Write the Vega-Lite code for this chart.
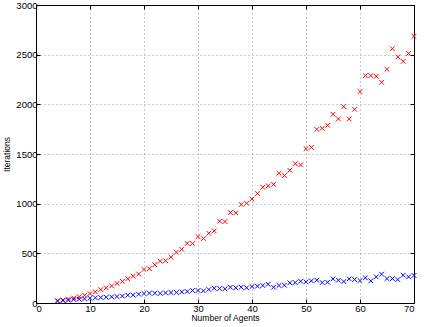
{
  "$schema": "https://vega.github.io/schema/vega-lite/v6.json",
  "width": 378,
  "height": 298,
  "autosize": {"type": "none"},
  "padding": {"left": 36, "top": 5, "right": 10, "bottom": 24},
  "config": {
    "view": {"stroke": "black", "strokeWidth": 1},
    "axis": {
      "labelFont": "Liberation Sans",
      "titleFont": "Liberation Sans",
      "labelFontSize": 9.5,
      "titleFontSize": 8.5,
      "titleFontWeight": "normal",
      "labelColor": "black",
      "titleColor": "black",
      "domainColor": "black",
      "tickColor": "black",
      "tickSize": -4,
      "gridColor": "#999999",
      "gridDash": [1, 3],
      "gridOpacity": 1,
      "format": "d"
    }
  },
  "data": {"values": [
    {"n":4,"red":22,"blue":20},{"n":5,"red":30,"blue":25},{"n":6,"red":40,"blue":28},{"n":7,"red":50,"blue":35},
    {"n":8,"red":63,"blue":38},{"n":9,"red":78,"blue":42},{"n":10,"red":95,"blue":48},{"n":11,"red":112,"blue":52},
    {"n":12,"red":135,"blue":55},{"n":13,"red":152,"blue":58},{"n":14,"red":172,"blue":62},{"n":15,"red":196,"blue":65},
    {"n":16,"red":218,"blue":70},{"n":17,"red":244,"blue":78},{"n":18,"red":270,"blue":80},{"n":19,"red":292,"blue":89},
    {"n":20,"red":338,"blue":96},{"n":21,"red":345,"blue":99},{"n":22,"red":385,"blue":99},{"n":23,"red":421,"blue":96},
    {"n":24,"red":426,"blue":102},{"n":25,"red":461,"blue":106},{"n":26,"red":511,"blue":106},{"n":27,"red":540,"blue":112},
    {"n":28,"red":600,"blue":116},{"n":29,"red":599,"blue":126},{"n":30,"red":668,"blue":126},{"n":31,"red":649,"blue":122},
    {"n":32,"red":702,"blue":136},{"n":33,"red":726,"blue":149},{"n":34,"red":823,"blue":146},{"n":35,"red":820,"blue":143},
    {"n":36,"red":910,"blue":159},{"n":37,"red":907,"blue":153},{"n":38,"red":991,"blue":159},{"n":39,"red":1004,"blue":153},
    {"n":40,"red":1048,"blue":166},{"n":41,"red":1102,"blue":169},{"n":42,"red":1165,"blue":176},{"n":43,"red":1179,"blue":189},
    {"n":44,"red":1195,"blue":159},{"n":45,"red":1306,"blue":176},{"n":46,"red":1283,"blue":179},{"n":47,"red":1336,"blue":203},
    {"n":48,"red":1403,"blue":206},{"n":49,"red":1390,"blue":219},{"n":50,"red":1554,"blue":213},{"n":51,"red":1567,"blue":223},
    {"n":52,"red":1748,"blue":230},{"n":53,"red":1759,"blue":206},{"n":54,"red":1789,"blue":209},{"n":55,"red":1900,"blue":243},
    {"n":56,"red":1853,"blue":229},{"n":57,"red":1977,"blue":216},{"n":58,"red":1853,"blue":243},{"n":59,"red":1950,"blue":236},
    {"n":60,"red":2128,"blue":226},{"n":61,"red":2289,"blue":253},{"n":62,"red":2289,"blue":223},{"n":63,"red":2282,"blue":263},
    {"n":64,"red":2222,"blue":290},{"n":65,"red":2352,"blue":246},{"n":66,"red":2560,"blue":246},{"n":67,"red":2477,"blue":236},
    {"n":68,"red":2433,"blue":280},{"n":69,"red":2513,"blue":263},{"n":70,"red":2684,"blue":277}
  ]},
  "layer": [
    {
      "mark": {"type": "point", "shape": "M-1,-1L1,1M-1,1L1,-1", "filled": false, "color": "#ff0000", "strokeWidth": 1, "size": 22, "opacity": 1},
      "encoding": {
        "x": {"field": "n", "type": "quantitative", "scale": {"domain": [0, 70], "nice": false, "zero": false},
              "axis": {"title": "Number of Agents", "values": [0,10,20,30,40,50,60,70], "labelPadding": 4, "titlePadding": 1, "grid": true}},
        "y": {"field": "red", "type": "quantitative", "scale": {"domain": [0, 3000], "nice": false},
              "axis": {"title": "Iterations", "values": [0,500,1000,1500,2000,2500,3000], "labelPadding": 3, "titlePadding": 4, "grid": true}}
      }
    },
    {
      "mark": {"type": "point", "shape": "M-1,-1L1,1M-1,1L1,-1", "filled": false, "color": "#0000ff", "strokeWidth": 1, "size": 22, "opacity": 1},
      "encoding": {
        "x": {"field": "n", "type": "quantitative", "scale": {"domain": [0, 70], "nice": false, "zero": false},
              "axis": {"orient": "top", "title": null, "labels": false, "grid": false, "values": [0,10,20,30,40,50,60,70]}},
        "y": {"field": "blue", "type": "quantitative", "scale": {"domain": [0, 3000], "nice": false},
              "axis": {"orient": "right", "title": null, "labels": false, "grid": false, "values": [0,500,1000,1500,2000,2500,3000]}}
      }
    }
  ],
  "resolve": {"axis": {"x": "independent", "y": "independent"}}
}
